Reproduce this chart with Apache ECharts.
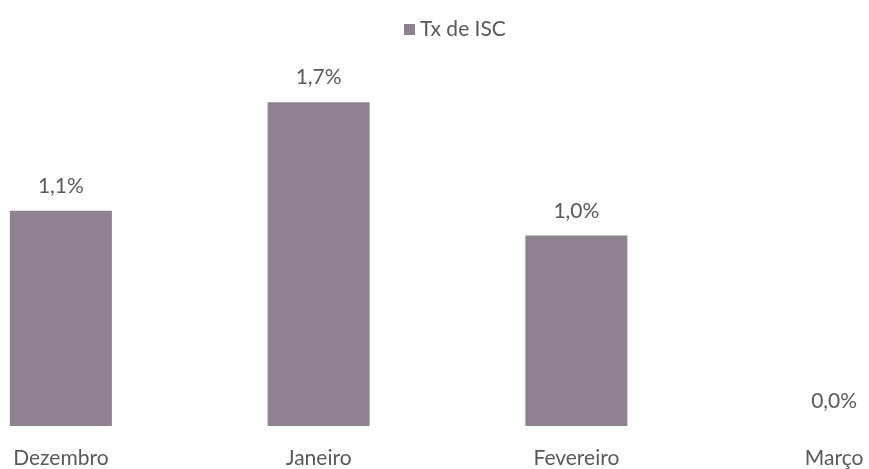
<!DOCTYPE html>
<html><head><meta charset="utf-8">
<script src="https://cdn.jsdelivr.net/npm/echarts@6/dist/echarts.min.js"></script>
<style>html,body{margin:0;padding:0;background:#fff;overflow:hidden;width:869px;height:469px;position:relative}
#c{position:absolute;left:-68px;top:0;width:1031px;height:469px}</style>
</head><body><div id="c"></div>
<script>
const categories = ['Dezembro', 'Janeiro', 'Fevereiro', 'Março'];
const seriesName = 'Tx de ISC';
const values = [1.13, 1.70, 1.00, 0.0];

const chart = echarts.init(document.getElementById('c'), null, {renderer: 'canvas'});
const font = 'Lato, "Open Sans", sans-serif';
chart.setOption({
  animation: false,
  backgroundColor: '#ffffff',
  legend: {
    top: 14, left: 467,
    icon: 'rect', itemWidth: 11, itemHeight: 11, itemGap: 5,
    textStyle: {color: '#595959', fontSize: 21, fontFamily: font},
    data: [seriesName]
  },
  grid: {left: 0, right: 0, top: 45, bottom: 42, containLabel: false},
  xAxis: {
    type: 'category', data: categories,
    axisLine: {show: false}, axisTick: {show: false},
    axisLabel: {color: '#595959', fontSize: 21, fontFamily: font, margin: 22}
  },
  yAxis: {type: 'value', min: 0, max: 2, show: false, splitLine: {show: false}},
  series: [{
    name: seriesName, type: 'bar', data: values, barWidth: 102,
    itemStyle: {color: '#8e8290'},
    label: {
      show: true, position: 'top', distance: 14,
      color: '#595959', fontSize: 21, fontFamily: font,
      formatter: p => p.value.toFixed(1).replace('.', ',') + '%'
    }
  }]
});
</script></body></html>
